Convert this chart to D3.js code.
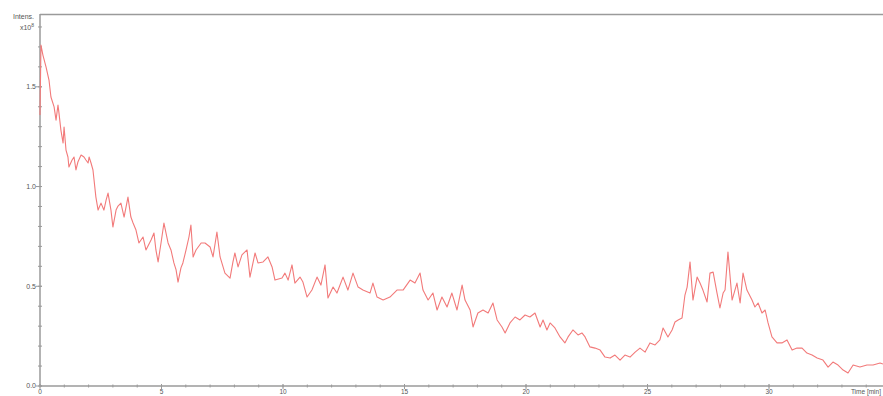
<!DOCTYPE html>
<html>
<head>
<meta charset="utf-8">
<script src="https://cdn.jsdelivr.net/npm/d3@7"></script>
<style>
  html, body { margin: 0; padding: 0; background: #fff; }
  svg { display: block; }
  text { font-family: "Liberation Sans", Arial, sans-serif; fill: #555; }
</style>
</head>
<body>
<svg id="chart" width="883" height="396"></svg>
<script>
// Retention time (min) of each sample of the trace
const timeMin = [
  0, 0.04, 0.12, 0.25, 0.37, 0.45, 0.58, 0.66, 0.74, 0.78, 0.86, 0.95, 0.99, 1.07, 1.15, 1.19,
  1.32, 1.40, 1.48, 1.56, 1.69, 1.81, 1.89, 1.98, 2.02, 2.10, 2.18, 2.30, 2.39, 2.51, 2.63, 2.72,
  2.80, 2.92, 3.00, 3.13, 3.21, 3.33, 3.46, 3.62, 3.74, 3.83, 3.95, 4.07, 4.24, 4.36, 4.57, 4.69,
  4.77, 4.86, 4.98, 5.10, 5.27, 5.39, 5.51, 5.60, 5.68, 5.80, 5.88, 6.01, 6.13, 6.21, 6.30, 6.42,
  6.63, 6.79, 7.00, 7.12, 7.28, 7.41, 7.61, 7.82, 7.94, 8.02, 8.15, 8.31, 8.52, 8.64, 8.85, 8.97,
  9.18, 9.38, 9.55, 9.67, 9.96, 10.08, 10.21, 10.37, 10.49, 10.70, 10.82, 10.99, 11.19, 11.40, 11.56, 11.73,
  11.85, 12.06, 12.22, 12.47, 12.67, 12.88, 13.09, 13.29, 13.58, 13.70, 13.87, 14.12, 14.40, 14.69, 14.94, 15.23,
  15.43, 15.64, 15.76, 15.97, 16.17, 16.34, 16.54, 16.75, 16.95, 17.16, 17.37, 17.49, 17.70, 17.82, 18.02, 18.23,
  18.44, 18.64, 18.81, 19.01, 19.14, 19.34, 19.55, 19.75, 19.96, 20.16, 20.37, 20.58, 20.70, 20.86, 20.99, 21.19,
  21.40, 21.60, 21.73, 21.93, 22.14, 22.30, 22.43, 22.63, 22.84, 23.05, 23.25, 23.46, 23.66, 23.87, 24.07, 24.28,
  24.49, 24.69, 24.90, 25.10, 25.31, 25.51, 25.64, 25.84, 26.01, 26.13, 26.26, 26.42, 26.54, 26.63, 26.75, 26.87,
  27.04, 27.16, 27.28, 27.45, 27.57, 27.70, 27.86, 27.98, 28.11, 28.19, 28.31, 28.48, 28.68, 28.81, 28.93, 29.09,
  29.30, 29.42, 29.55, 29.71, 29.84, 29.96, 30.12, 30.33, 30.53, 30.74, 30.95, 31.15, 31.36, 31.56, 31.77, 31.98,
  32.22, 32.43, 32.63, 32.84, 33.05, 33.25, 33.46, 33.74, 34.03, 34.28, 34.57, 34.69
];

// Intensity (x10^8) at each retention time
const intensity = [
  1.359, 1.709, 1.659, 1.599, 1.534, 1.449, 1.399, 1.333, 1.409, 1.369, 1.283, 1.218, 1.298, 1.183, 1.148, 1.098,
  1.133, 1.148, 1.083, 1.123, 1.158, 1.148, 1.133, 1.118, 1.148, 1.118, 1.083, 0.947, 0.882, 0.917, 0.882, 0.932,
  0.967, 0.882, 0.797, 0.882, 0.902, 0.917, 0.847, 0.947, 0.847, 0.817, 0.782, 0.717, 0.747, 0.682, 0.732, 0.767,
  0.682, 0.622, 0.717, 0.817, 0.717, 0.682, 0.617, 0.582, 0.521, 0.592, 0.617, 0.682, 0.747, 0.807, 0.647, 0.682,
  0.717, 0.717, 0.697, 0.647, 0.772, 0.647, 0.566, 0.541, 0.622, 0.667, 0.597, 0.657, 0.682, 0.546, 0.667, 0.617,
  0.622, 0.647, 0.597, 0.531, 0.541, 0.566, 0.531, 0.607, 0.516, 0.546, 0.521, 0.446, 0.481, 0.546, 0.506, 0.607,
  0.441, 0.496, 0.466, 0.546, 0.481, 0.566, 0.496, 0.481, 0.466, 0.516, 0.446, 0.431, 0.446, 0.481, 0.481, 0.531,
  0.516, 0.566, 0.481, 0.431, 0.466, 0.381, 0.446, 0.396, 0.466, 0.381, 0.506, 0.431, 0.381, 0.296, 0.366, 0.381,
  0.366, 0.416, 0.331, 0.296, 0.266, 0.316, 0.346, 0.331, 0.356, 0.346, 0.366, 0.296, 0.331, 0.281, 0.316, 0.291,
  0.246, 0.216, 0.246, 0.281, 0.256, 0.266, 0.246, 0.196, 0.190, 0.180, 0.145, 0.140, 0.155, 0.130, 0.155, 0.145,
  0.170, 0.190, 0.170, 0.216, 0.206, 0.231, 0.291, 0.246, 0.281, 0.321, 0.331, 0.341, 0.456, 0.496, 0.622, 0.431,
  0.546, 0.516, 0.481, 0.421, 0.566, 0.571, 0.466, 0.391, 0.466, 0.481, 0.672, 0.431, 0.516, 0.416, 0.566, 0.481,
  0.431, 0.396, 0.416, 0.366, 0.381, 0.316, 0.246, 0.216, 0.216, 0.231, 0.180, 0.190, 0.190, 0.165, 0.155, 0.140,
  0.130, 0.095, 0.120, 0.105, 0.080, 0.065, 0.105, 0.095, 0.105, 0.105, 0.115, 0.110
];

// Axis ticks
const xMajorTicks = [0, 5, 10, 15, 20, 25, 30];
const xMinorTicks = d3.range(0, 35, 1);
const yMajorTicks = [0.0, 0.5, 1.0, 1.5];
const yMinorTicks = d3.range(0, 1.81, 0.1);

const xTitle = "Time [min]";
const yTitle = "Intens.";
const yScaleNote = "x10";
const yScaleExp = "8";

const W = 883, H = 396;
const m = { left: 40, top: 14, right: 0, bottom: 10 };

const svg = d3.select("#chart");

const x = d3.scaleLinear().domain([0, 34.69]).range([m.left, W - m.right]);
const y = d3.scaleLinear().domain([0, 1.865]).range([H - m.bottom, m.top]);

const axisColor = "#9a9a9a";

// Top frame line
svg.append("line")
  .attr("x1", m.left).attr("x2", W)
  .attr("y1", m.top + 0.5).attr("y2", m.top + 0.5)
  .attr("stroke", axisColor).attr("stroke-width", 1.5);

// Y axis
const yAxisG = svg.append("g").attr("transform", `translate(${m.left},0)`);
yAxisG.append("line")
  .attr("x1", 0).attr("x2", 0)
  .attr("y1", m.top).attr("y2", y(0))
  .attr("stroke", axisColor).attr("stroke-width", 1.5);
yAxisG.selectAll("line.minor").data(yMinorTicks).join("line")
  .attr("class", "minor")
  .attr("x1", -2).attr("x2", 2)
  .attr("y1", d => y(d)).attr("y2", d => y(d))
  .attr("stroke", axisColor).attr("stroke-width", 1);
yAxisG.selectAll("line.major").data(yMajorTicks).join("line")
  .attr("class", "major")
  .attr("x1", -4).attr("x2", 2)
  .attr("y1", d => y(d)).attr("y2", d => y(d))
  .attr("stroke", axisColor).attr("stroke-width", 1);
yAxisG.selectAll("text.tl").data(yMajorTicks).join("text")
  .attr("class", "tl")
  .attr("x", -4).attr("y", d => y(d))
  .attr("dy", "0.35em")
  .attr("text-anchor", "end")
  .attr("font-size", 7)
  .text(d3.format(".1f"));

// X axis
const xAxisG = svg.append("g").attr("transform", `translate(0,${y(0)})`);
xAxisG.append("line")
  .attr("x1", m.left).attr("x2", W)
  .attr("y1", 0).attr("y2", 0)
  .attr("stroke", axisColor).attr("stroke-width", 1.5);
xAxisG.selectAll("line.minor").data(xMinorTicks).join("line")
  .attr("class", "minor")
  .attr("x1", d => x(d)).attr("x2", d => x(d))
  .attr("y1", -1.5).attr("y2", 1.5)
  .attr("stroke", axisColor).attr("stroke-width", 1);
xAxisG.selectAll("line.major").data(xMajorTicks).join("line")
  .attr("class", "major")
  .attr("x1", d => x(d)).attr("x2", d => x(d))
  .attr("y1", -2).attr("y2", 3)
  .attr("stroke", axisColor).attr("stroke-width", 1);
xAxisG.selectAll("text.tl").data(xMajorTicks).join("text")
  .attr("class", "tl")
  .attr("x", d => x(d)).attr("y", 8.2)
  .attr("text-anchor", "middle")
  .attr("font-size", 6.5)
  .text(d => d);
xAxisG.append("text")
  .attr("x", W - 2).attr("y", 8.2)
  .attr("text-anchor", "end")
  .attr("font-size", 6.5)
  .text(xTitle);

// Y title with scale factor
svg.append("text")
  .attr("x", 34).attr("y", 19)
  .attr("text-anchor", "end")
  .attr("font-size", 7)
  .text(yTitle);
const sc = svg.append("text")
  .attr("x", 34).attr("y", 30)
  .attr("text-anchor", "end")
  .attr("font-size", 7);
sc.append("tspan").text(yScaleNote);
sc.append("tspan").attr("dy", -3).attr("font-size", 5).text(yScaleExp);

// Trace
const pts = timeMin.map((t, i) => [t, intensity[i]]);
const line = d3.line().x(d => x(d[0])).y(d => y(d[1]));
svg.append("path")
  .datum(pts)
  .attr("d", line)
  .attr("fill", "none")
  .attr("stroke", "#f27a7a")
  .attr("stroke-width", 1.1)
  .attr("stroke-linejoin", "round");
</script>
</body>
</html>
